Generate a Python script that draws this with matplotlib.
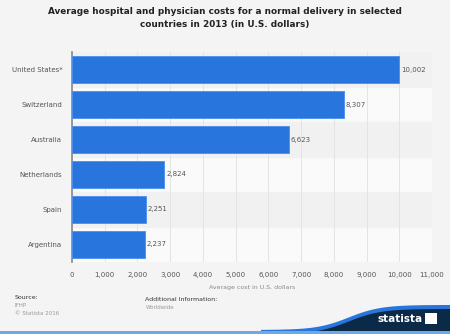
import numpy as np
import matplotlib.pyplot as plt
from matplotlib.patches import Polygon, Rectangle

countries = ["United States*", "Switzerland", "Australia", "Netherlands", "Spain", "Argentina"]
costs = [10002, 8307, 6623, 2824, 2251, 2237]
xticks = list(range(0, 12000, 1000))

fig = plt.figure(figsize=(4.5, 3.34), dpi=100)
fig.patch.set_facecolor("#f4f4f4")
ax = fig.add_axes([0.16, 0.216, 0.8, 0.628])
ax.set_facecolor("#fafafa")

y = np.arange(len(countries))
# alternating row bands
for i in y:
    if i % 2 == 0:
        ax.axhspan(i - 0.5, i + 0.5, color="#f1f1f1", zorder=0)
ax.grid(axis="x", color="#e4e4e4", linewidth=0.7, zorder=1)
ax.barh(y, costs, height=0.77, color="#2876dd", edgecolor="#4a8ff0", linewidth=0.6, zorder=3)
for yi, v in zip(y, costs):
    ax.text(v + 50, yi, f"{v:,}", va="center", ha="left", fontsize=5, color="#555555", zorder=4)

ax.set_ylim(len(countries) - 0.5, -0.5)
ax.set_xlim(0, 11000)
ax.set_xticks(xticks)
ax.set_xticklabels([f"{t:,}" for t in xticks], fontsize=5, color="#555555")
ax.set_yticks(y)
ax.set_yticklabels(countries, fontsize=5, color="#555555")
ax.tick_params(length=0, pad=7)
for s in ["top", "right", "bottom"]:
    ax.spines[s].set_visible(False)
ax.spines["left"].set_color("#888888")
ax.spines["left"].set_linewidth(1.2)
ax.set_xlabel("Average cost in U.S. dollars", fontsize=4.5, color="#888888", labelpad=5)

fig.text(0.5, 0.947, "Average hospital and physician costs for a normal delivery in selected\ncountries in 2013 (in U.S. dollars)",
         ha="center", va="center", fontsize=6.4, fontweight="bold", color="#222222", linespacing=1.6)

fig.text(0.033, 0.104, "Source:", fontsize=4.5, color="#333333")
fig.text(0.033, 0.082, "IFHP", fontsize=4, color="#999999")
fig.text(0.033, 0.058, "© Statista 2016", fontsize=4, color="#999999")
fig.text(0.323, 0.098, "Additional Information:", fontsize=4.5, color="#333333")
fig.text(0.323, 0.075, "Worldwide", fontsize=4, color="#999999")

# statista logo area
xs = np.linspace(0.58, 1.0, 80)
wave = 0.012 + (0.087 - 0.012) / (1 + np.exp(-(xs - 0.775) * 28))
navy = Polygon(np.column_stack([np.r_[xs, 1.0, 0.58], np.r_[wave - 0.008, 0.0, 0.0]]),
               closed=True, transform=fig.transFigure, facecolor="#0b2a47", edgecolor="none")
blue = Polygon(np.column_stack([np.r_[xs, xs[::-1]], np.r_[wave, wave[::-1] - 0.012]]),
               closed=True, transform=fig.transFigure, facecolor="#2876dd", edgecolor="none")
fig.patches.extend([navy, blue])
fig.patches.append(Rectangle((0, 0), 1, 0.008, transform=fig.transFigure, facecolor="#6fa8e8", edgecolor="none"))
fig.text(0.84, 0.045, "statista", fontsize=7.5, fontweight="bold", color="white", ha="left", va="center")
fig.patches.append(Rectangle((0.945, 0.03), 0.026, 0.034, transform=fig.transFigure, facecolor="white", edgecolor="none"))

fig.savefig("out.png", dpi=100, facecolor=fig.get_facecolor())
